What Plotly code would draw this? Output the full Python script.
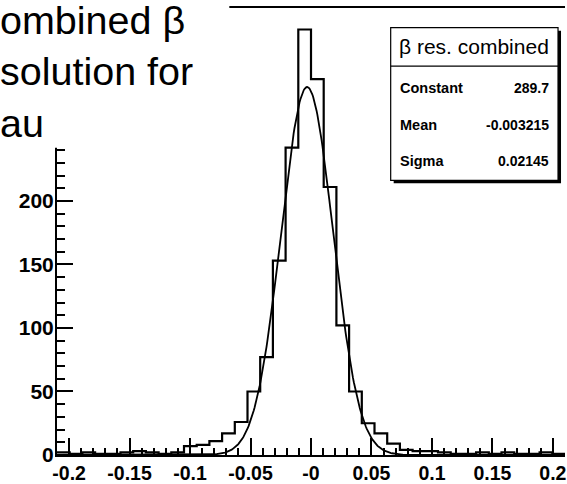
import numpy as np
import plotly.graph_objects as go

# ---------------- data ----------------
bin_lo = -0.21
bin_hi = 0.21
counts = [2, 1, 2, 1, 1, 2, 3, 2, 1, 2,
          7, 8, 11, 17, 26, 50, 77, 153, 242, 335,
          296, 211, 102, 50, 25, 17, 9, 4, 3, 3,
          2, 1, 1, 2, 1, 2, 1, 1, 2, 1]
fit_constant = 289.7
fit_mean = -0.003215
fit_sigma = 0.02145
stat_names = ["Constant", "Mean", "Sigma"]
stat_values = ["289.7", "-0.003215", "0.02145"]
stats_title = "β res. combined"
x_tickvals = [-0.2, -0.15, -0.1, -0.05, 0.0, 0.05, 0.1, 0.15, 0.2]
x_ticktext = ["-0.2", "-0.15", "-0.1", "-0.05", "-0", "0.05", "0.1", "0.15", "0.2"]
y_tickvals = [0, 50, 100, 150, 200]
title_lines = ["ombined β", "solution for", "au"]

# ---------------- derived ----------------
nb = len(counts)
edges = np.linspace(bin_lo, bin_hi, nb + 1)
hx = list(edges)
hy = list(counts) + [counts[-1]]

fx = np.linspace(bin_lo, bin_hi, 600)
fy = fit_constant * np.exp(-0.5 * ((fx - fit_mean) / fit_sigma) ** 2)

W, H = 567, 484
L, R, T, B = 57, 567, 8, 462


def px(x):
    return (x - L) / (R - L)


def py(y):
    return (B - y) / (B - T)


FONT = "Liberation Sans, Arial, Helvetica, sans-serif"

fig = go.Figure()
fig.add_trace(go.Scatter(x=hx, y=hy, mode="lines", line=dict(shape="hv", color="black", width=2.2),
                         hoverinfo="skip", showlegend=False))
fig.add_trace(go.Scatter(x=fx, y=fy, mode="lines", line=dict(color="black", width=1.8),
                         hoverinfo="skip", showlegend=False))

shapes = []
annotations = []

# white cover box at top-left (slide text box)
shapes.append(dict(type="rect", xref="paper", yref="paper", layer="above",
                   x0=px(-5), x1=px(230), y0=py(-5), y1=py(150),
                   fillcolor="white", line=dict(width=0)))

# stats box: shadow + box + divider
shapes.append(dict(type="rect", xref="paper", yref="paper", layer="above",
                   x0=px(395), x1=px(563), y0=py(31), y1=py(186),
                   fillcolor="black", line=dict(width=0)))
shapes.append(dict(type="rect", xref="paper", yref="paper", layer="above",
                   x0=px(392), x1=px(560), y0=py(28), y1=py(183),
                   fillcolor="white", line=dict(color="black", width=1.2)))
shapes.append(dict(type="line", xref="paper", yref="paper", layer="above",
                   x0=px(392), x1=px(560), y0=py(67), y1=py(67),
                   line=dict(color="black", width=1.2)))

annotations.append(dict(xref="paper", yref="paper", x=px(476), y=py(47),
                        xanchor="center", yanchor="middle", showarrow=False,
                        text=stats_title, font=dict(family=FONT, size=21, color="black")))
row_y = [89, 127, 163]
for name, val, yy in zip(stat_names, stat_values, row_y):
    annotations.append(dict(xref="paper", yref="paper", x=px(399), y=py(yy),
                            xanchor="left", yanchor="middle", showarrow=False,
                            text=name, font=dict(family=FONT, size=14.5, color="black", weight="bold")))
    annotations.append(dict(xref="paper", yref="paper", x=px(553), y=py(yy),
                            xanchor="right", yanchor="middle", showarrow=False,
                            text=val, font=dict(family=FONT, size=14, color="black", weight="bold")))

# slide title text (cut off at the left edge in the original)
annotations.append(dict(xref="paper", yref="paper", x=px(-2), y=py(-4),
                        xanchor="left", yanchor="top", align="left", showarrow=False,
                        text="<br>".join(title_lines),
                        font=dict(family=FONT, size=39.5, color="black")))

fig.update_layout(
    width=W, height=H,
    margin=dict(l=L, r=W - R, t=T, b=H - B),
    paper_bgcolor="white", plot_bgcolor="white",
    showlegend=False,
    shapes=shapes, annotations=annotations,
    font=dict(family=FONT, color="black"),
)
fig.update_xaxes(range=[bin_lo, bin_hi], tickvals=x_tickvals, ticktext=x_ticktext,
                 ticks="inside", ticklen=17, tickwidth=2, tickcolor="black",
                 ticklabeloverflow="allow",
                 minor=dict(dtick=0.01, tick0=0, ticks="inside", ticklen=7, tickwidth=1.5, tickcolor="black", showgrid=False),
                 showline=True, linewidth=2, linecolor="black", mirror=True,
                 showgrid=False, zeroline=False,
                 tickfont=dict(family=FONT, size=19.5, color="black", weight="bold"))
fig.update_yaxes(range=[0, (B - T) / 1.29], tickvals=y_tickvals,
                 ticks="inside", ticklen=16, tickwidth=2, tickcolor="black",
                 ticklabelstandoff=-3,
                 minor=dict(dtick=10, tick0=0, ticks="inside", ticklen=8, tickwidth=1.5, tickcolor="black", showgrid=False),
                 showline=True, linewidth=2, linecolor="black", mirror=False,
                 showgrid=False, zeroline=False,
                 tickfont=dict(family=FONT, size=21, color="black", weight="bold"))

fig.write_html("out.html")
